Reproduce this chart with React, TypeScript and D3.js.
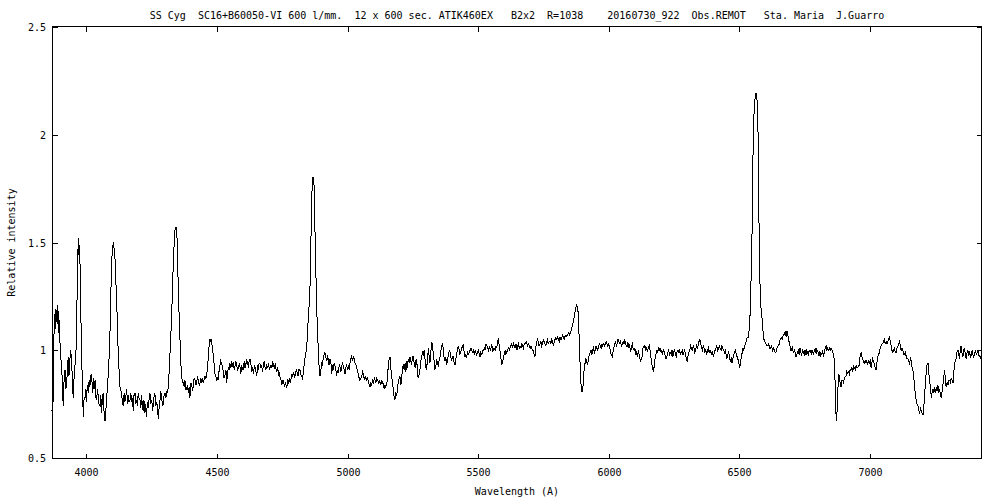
import React, { useEffect } from 'react';
import * as d3 from 'd3';

const title =
  'SS Cyg  SC16+B60050-VI 600 l/mm.  12 x 600 sec. ATIK460EX   B2x2  R=1038    20160730_922  Obs.REMOT   Sta. Maria  J.Guarro';
const xLabel = 'Wavelength (A)';
const yLabel = 'Relative intensity';

const xTicks = [4000, 4500, 5000, 5500, 6000, 6500, 7000];
const yTicks = [0.5, 1, 1.5, 2, 2.5];
const yTickLabels = ['0.5', '1', '1.5', '2', '2.5'];

// [wavelength (A), relative intensity]
const spectrum: [number, number][] = [
  [3868,0.72],[3870,0.80],[3872,0.76],[3875,1.05],[3877,1.12],[3879,1.17],[3881,1.10],[3883,1.19],[3885,1.13],[3888,1.21],
  [3890,1.12],[3892,1.18],[3894,1.08],[3896,1.14],[3899,1.02],[3902,0.96],[3905,0.92],[3908,0.84],[3911,0.74],[3914,0.85],
  [3918,0.91],[3921,0.82],[3924,0.85],[3927,0.90],[3930,0.97],[3933,0.88],[3936,0.95],[3940,1.00],[3943,0.93],[3946,0.88],
  [3949,0.78],[3952,0.86],[3956,0.93],[3960,1.00],[3963,1.18],[3965,1.31],[3967,1.45],[3969,1.52],[3971,1.44],[3973,1.49],
  [3975,1.42],[3978,1.19],[3982,0.96],[3985,0.80],[3988,0.69],[3991,0.78],[3994,0.77],[3997,0.82],[4000,0.76],[4003,0.84],
  [4007,0.80],[4010,0.86],[4013,0.83],[4016,0.88],[4020,0.89],[4023,0.80],[4026,0.87],[4029,0.82],[4033,0.86],[4036,0.78],
  [4039,0.77],[4042,0.82],[4045,0.79],[4048,0.75],[4052,0.74],[4055,0.79],[4058,0.71],[4061,0.78],[4064,0.80],[4067,0.72],
  [4071,0.67],[4074,0.72],[4077,0.77],[4080,0.83],[4083,0.88],[4086,0.95],[4090,1.08],[4093,1.25],[4096,1.39],[4099,1.47],
  [4103,1.50],[4106,1.47],[4109,1.43],[4112,1.33],[4116,1.23],[4119,1.05],[4122,1.00],[4125,0.90],[4128,0.83],[4131,0.82],
  [4135,0.79],[4138,0.76],[4141,0.74],[4144,0.80],[4147,0.76],[4150,0.78],[4154,0.82],[4157,0.75],[4160,0.79],[4163,0.76],
  [4167,0.77],[4170,0.80],[4173,0.76],[4176,0.78],[4179,0.72],[4182,0.79],[4186,0.80],[4189,0.75],[4192,0.77],[4195,0.74],
  [4198,0.80],[4201,0.78],[4205,0.77],[4208,0.73],[4211,0.79],[4214,0.74],[4217,0.72],[4220,0.77],[4224,0.71],[4227,0.75],
  [4230,0.69],[4233,0.76],[4237,0.73],[4240,0.78],[4243,0.80],[4246,0.75],[4250,0.77],[4253,0.72],[4256,0.75],[4259,0.79],
  [4262,0.80],[4265,0.74],[4269,0.76],[4272,0.73],[4275,0.68],[4278,0.73],[4281,0.76],[4284,0.81],[4288,0.78],[4291,0.74],
  [4294,0.75],[4297,0.79],[4301,0.80],[4304,0.78],[4307,0.81],[4310,0.80],[4313,0.83],[4316,0.89],[4320,0.99],[4323,1.07],
  [4326,1.16],[4329,1.27],[4332,1.39],[4336,1.50],[4339,1.56],[4341,1.57],[4343,1.57],[4346,1.53],[4348,1.50],[4351,1.31],
  [4355,1.15],[4358,1.05],[4361,0.95],[4364,0.88],[4368,0.85],[4371,0.85],[4374,0.83],[4377,0.86],[4380,0.82],[4383,0.82],
  [4387,0.84],[4390,0.80],[4393,0.83],[4396,0.78],[4400,0.85],[4403,0.84],[4406,0.81],[4409,0.83],[4412,0.87],[4416,0.86],
  [4419,0.84],[4422,0.85],[4425,0.88],[4428,0.86],[4432,0.84],[4435,0.85],[4438,0.87],[4441,0.85],[4444,0.87],[4447,0.85],
  [4450,0.86],[4454,0.88],[4457,0.87],[4460,0.88],[4463,0.92],[4466,0.96],[4470,1.03],[4473,1.05],[4476,1.04],[4479,1.05],
  [4482,1.00],[4486,0.98],[4489,0.93],[4492,0.89],[4495,0.88],[4499,0.86],[4502,0.87],[4505,0.86],[4508,0.91],[4511,0.93],
  [4514,0.95],[4518,0.94],[4521,0.92],[4524,0.90],[4527,0.87],[4530,0.88],[4534,0.91],[4537,0.85],[4540,0.89],[4543,0.92],
  [4546,0.91],[4549,0.94],[4553,0.92],[4556,0.95],[4559,0.93],[4562,0.94],[4566,0.91],[4569,0.93],[4572,0.95],[4575,0.93],
  [4579,0.91],[4582,0.92],[4585,0.94],[4588,0.92],[4591,0.89],[4594,0.93],[4598,0.91],[4600,0.91],[4604,0.95],[4607,0.92],
  [4610,0.93],[4613,0.96],[4617,0.94],[4620,0.92],[4623,0.95],[4626,0.96],[4630,0.93],[4633,0.90],[4636,0.92],[4639,0.89],
  [4643,0.93],[4646,0.92],[4649,0.90],[4652,0.88],[4655,0.93],[4658,0.91],[4661,0.94],[4664,0.94],[4668,0.92],[4671,0.93],
  [4674,0.90],[4677,0.93],[4681,0.95],[4684,0.92],[4687,0.91],[4690,0.93],[4694,0.92],[4697,0.94],[4700,0.91],[4703,0.92],
  [4707,0.93],[4710,0.92],[4713,0.95],[4716,0.93],[4720,0.92],[4723,0.94],[4726,0.91],[4729,0.90],[4732,0.92],[4736,0.88],
  [4739,0.89],[4742,0.87],[4745,0.86],[4748,0.84],[4751,0.86],[4754,0.86],[4758,0.83],[4761,0.85],[4764,0.84],[4767,0.83],
  [4771,0.86],[4774,0.85],[4777,0.87],[4780,0.85],[4784,0.87],[4787,0.89],[4790,0.88],[4793,0.90],[4797,0.87],[4800,0.89],
  [4803,0.91],[4806,0.90],[4810,0.88],[4813,0.91],[4817,0.91],[4820,0.89],[4824,0.88],[4827,0.87],[4830,0.89],[4833,0.93],
  [4836,0.96],[4840,0.99],[4843,1.00],[4846,1.08],[4849,1.14],[4852,1.20],[4856,1.30],[4858,1.42],[4860,1.55],[4862,1.68],
  [4865,1.79],[4867,1.80],[4869,1.80],[4871,1.78],[4873,1.66],[4875,1.55],[4878,1.38],[4881,1.22],[4884,1.10],[4886,1.05],
  [4889,0.96],[4892,0.90],[4894,0.88],[4897,0.90],[4900,0.94],[4904,0.93],[4907,0.97],[4910,0.98],[4913,0.99],[4916,0.97],
  [4920,0.95],[4923,0.97],[4926,0.96],[4929,0.93],[4932,0.96],[4936,0.94],[4939,0.89],[4942,0.93],[4945,0.91],[4948,0.94],
  [4951,0.93],[4955,0.91],[4958,0.88],[4961,0.91],[4964,0.90],[4968,0.93],[4971,0.92],[4974,0.90],[4977,0.92],[4980,0.94],
  [4983,0.93],[4987,0.91],[4990,0.89],[4993,0.92],[4996,0.93],[5000,0.91],[5003,0.93],[5006,0.91],[5009,0.94],[5012,0.96],
  [5015,0.97],[5019,0.95],[5022,0.97],[5025,0.96],[5028,0.94],[5032,0.93],[5035,0.92],[5038,0.90],[5041,0.89],[5044,0.87],
  [5047,0.86],[5051,0.87],[5054,0.88],[5057,0.90],[5060,0.89],[5064,0.86],[5067,0.88],[5070,0.87],[5073,0.86],[5076,0.87],
  [5080,0.85],[5083,0.84],[5086,0.83],[5089,0.85],[5092,0.84],[5096,0.86],[5099,0.85],[5102,0.87],[5105,0.86],[5108,0.85],
  [5111,0.87],[5115,0.86],[5118,0.85],[5121,0.86],[5124,0.85],[5127,0.84],[5131,0.86],[5134,0.85],[5137,0.84],[5140,0.82],
  [5143,0.84],[5146,0.83],[5150,0.84],[5153,0.89],[5156,0.93],[5159,0.96],[5162,0.97],[5165,0.92],[5169,0.88],[5172,0.84],
  [5175,0.82],[5178,0.78],[5181,0.77],[5184,0.80],[5188,0.79],[5191,0.83],[5194,0.85],[5197,0.87],[5200,0.88],[5204,0.84],
  [5207,0.87],[5210,0.92],[5213,0.93],[5216,0.91],[5220,0.94],[5223,0.90],[5226,0.95],[5229,0.92],[5232,0.96],[5236,0.94],
  [5239,0.97],[5242,0.95],[5245,0.93],[5248,0.97],[5251,0.97],[5255,0.94],[5258,0.92],[5261,0.95],[5264,0.96],[5267,0.91],
  [5270,0.87],[5274,0.89],[5277,0.91],[5280,0.95],[5283,0.97],[5287,0.99],[5290,0.98],[5293,1.00],[5296,0.96],[5299,0.92],
  [5302,0.91],[5306,0.96],[5309,1.01],[5312,0.97],[5315,0.94],[5319,1.00],[5322,1.04],[5325,1.02],[5328,0.98],[5331,0.95],
  [5334,0.91],[5338,0.93],[5341,0.96],[5344,0.94],[5347,0.93],[5350,0.95],[5354,0.97],[5357,1.00],[5360,1.02],[5364,1.03],
  [5367,0.99],[5370,0.96],[5373,0.95],[5376,0.97],[5379,0.93],[5382,0.95],[5386,0.98],[5389,1.00],[5392,0.99],[5395,0.97],
  [5398,0.95],[5401,0.97],[5404,0.97],[5408,0.94],[5411,0.93],[5414,0.96],[5417,0.98],[5420,1.00],[5424,1.02],[5427,1.00],
  [5430,0.98],[5433,0.99],[5437,1.01],[5440,1.02],[5443,1.03],[5446,0.99],[5449,0.97],[5453,0.98],[5456,0.97],[5459,0.99],
  [5462,0.98],[5465,0.99],[5469,1.00],[5472,1.01],[5475,1.00],[5478,0.99],[5482,1.00],[5485,0.98],[5488,1.00],[5491,0.99],
  [5494,0.98],[5498,0.99],[5501,1.00],[5504,0.98],[5507,0.97],[5510,0.99],[5514,0.98],[5517,1.00],[5520,1.00],[5523,1.01],
  [5526,1.00],[5530,1.03],[5533,1.02],[5536,1.01],[5539,1.00],[5543,1.02],[5546,1.00],[5549,1.01],[5552,1.03],[5555,0.99],
  [5559,1.01],[5562,1.01],[5565,1.00],[5568,1.02],[5571,1.01],[5574,1.04],[5577,1.05],[5581,1.02],[5584,0.99],[5587,0.96],
  [5590,0.93],[5593,0.95],[5597,0.96],[5600,0.99],[5603,1.00],[5606,0.98],[5609,0.99],[5612,1.00],[5616,1.01],[5619,1.00],
  [5622,1.01],[5625,1.02],[5628,1.03],[5632,1.01],[5635,1.03],[5638,1.02],[5641,1.01],[5645,1.03],[5648,1.00],[5651,1.02],
  [5654,1.03],[5657,1.01],[5660,1.02],[5664,1.01],[5667,1.03],[5670,1.02],[5673,1.01],[5676,1.03],[5680,1.03],[5683,1.04],
  [5686,1.03],[5689,1.02],[5692,1.03],[5696,1.02],[5699,1.01],[5702,1.02],[5705,1.01],[5708,1.00],[5711,1.00],[5714,0.98],
  [5717,0.97],[5720,1.01],[5724,1.04],[5727,1.05],[5730,1.04],[5733,1.02],[5737,1.03],[5740,1.04],[5743,1.02],[5746,1.03],
  [5749,1.05],[5752,1.04],[5756,1.03],[5759,1.02],[5762,1.04],[5765,1.05],[5768,1.03],[5772,1.04],[5775,1.04],[5778,1.03],
  [5781,1.05],[5784,1.04],[5788,1.02],[5791,1.04],[5794,1.05],[5797,1.06],[5801,1.05],[5804,1.06],[5807,1.05],[5810,1.04],
  [5813,1.06],[5817,1.05],[5820,1.06],[5823,1.07],[5826,1.06],[5829,1.05],[5833,1.07],[5836,1.06],[5839,1.07],[5842,1.07],
  [5845,1.08],[5849,1.07],[5852,1.08],[5855,1.09],[5858,1.10],[5861,1.12],[5864,1.13],[5868,1.16],[5871,1.18],[5874,1.20],
  [5877,1.21],[5880,1.20],[5883,1.17],[5885,1.10],[5887,1.04],[5889,0.97],[5891,0.90],[5893,0.85],[5895,0.82],[5897,0.81],
  [5899,0.81],[5901,0.83],[5903,0.87],[5906,0.92],[5909,0.94],[5912,0.96],[5915,0.95],[5918,0.93],[5922,0.96],[5925,0.98],
  [5929,0.99],[5932,1.00],[5935,0.98],[5938,1.00],[5941,1.01],[5945,0.99],[5948,1.00],[5951,1.02],[5954,1.01],[5958,1.00],
  [5961,1.02],[5964,1.03],[5967,1.02],[5971,1.01],[5974,1.03],[5977,1.02],[5980,1.03],[5984,1.02],[5987,1.03],[5990,1.04],
  [5993,1.03],[5996,1.02],[6000,1.03],[6003,1.01],[6006,1.00],[6009,0.98],[6013,0.97],[6016,0.99],[6019,1.01],[6022,1.03],
  [6026,1.04],[6029,1.02],[6032,1.03],[6035,1.05],[6039,1.04],[6042,1.03],[6045,1.04],[6048,1.02],[6052,1.03],[6055,1.04],
  [6058,1.03],[6061,1.05],[6064,1.03],[6068,1.02],[6071,1.03],[6074,1.01],[6077,1.03],[6080,1.02],[6084,0.99],[6087,1.02],
  [6090,1.03],[6093,1.01],[6097,1.00],[6100,1.01],[6103,0.98],[6106,0.99],[6110,0.97],[6113,1.00],[6116,0.98],[6119,0.96],
  [6122,0.95],[6126,0.96],[6129,0.99],[6132,1.02],[6135,1.01],[6138,1.02],[6142,1.00],[6145,1.01],[6148,1.00],[6151,1.01],
  [6155,1.02],[6158,1.00],[6161,0.97],[6164,0.94],[6167,0.92],[6171,0.90],[6174,0.93],[6177,0.96],[6180,0.98],[6184,1.00],
  [6187,0.99],[6190,1.01],[6193,1.00],[6196,1.01],[6200,0.99],[6203,1.00],[6206,0.98],[6209,1.00],[6213,0.99],[6216,0.97],
  [6219,0.96],[6222,0.97],[6226,0.99],[6229,1.00],[6232,0.98],[6235,0.99],[6239,0.98],[6242,1.00],[6245,0.97],[6248,0.99],
  [6252,1.00],[6255,0.98],[6258,0.97],[6261,0.99],[6265,1.00],[6268,0.99],[6271,1.00],[6274,0.98],[6278,0.99],[6281,1.00],
  [6284,0.98],[6287,0.99],[6290,1.00],[6294,0.98],[6297,0.96],[6300,0.95],[6303,0.97],[6306,0.99],[6310,1.00],[6313,1.02],
  [6316,1.01],[6319,1.00],[6323,1.02],[6326,1.01],[6329,0.99],[6332,1.00],[6336,1.02],[6339,1.01],[6342,1.02],[6345,1.04],
  [6349,1.05],[6352,1.03],[6355,1.01],[6358,1.00],[6362,1.02],[6365,1.01],[6368,0.99],[6371,1.00],[6375,0.98],[6378,1.00],
  [6381,1.01],[6384,0.99],[6388,1.00],[6391,0.99],[6394,0.98],[6397,0.99],[6400,0.97],[6404,0.99],[6407,1.00],[6410,1.01],
  [6413,1.02],[6417,1.00],[6420,1.01],[6423,1.02],[6426,1.01],[6430,1.00],[6433,1.02],[6436,1.01],[6439,1.00],[6443,0.99],
  [6446,1.00],[6449,0.98],[6452,0.96],[6456,0.98],[6459,0.99],[6462,0.97],[6465,0.95],[6469,0.96],[6472,0.94],[6475,0.96],
  [6478,0.98],[6481,0.99],[6485,1.00],[6488,0.98],[6491,0.97],[6494,0.96],[6498,0.94],[6501,0.92],[6504,0.94],[6507,0.97],
  [6511,0.99],[6514,1.01],[6517,1.00],[6520,1.02],[6524,1.03],[6527,1.05],[6530,1.06],[6534,1.06],[6538,1.10],[6541,1.17],
  [6544,1.30],[6548,1.51],[6551,1.85],[6556,2.10],[6560,2.17],[6563,2.19],[6566,2.19],[6568,2.15],[6570,2.11],[6572,1.95],
  [6575,1.59],[6579,1.30],[6583,1.19],[6588,1.13],[6591,1.08],[6594,1.05],[6598,1.04],[6602,1.03],[6605,1.02],[6609,1.02],
  [6612,1.03],[6616,1.01],[6620,1.01],[6623,1.02],[6627,1.00],[6630,1.01],[6634,1.00],[6637,0.99],[6640,0.99],[6644,1.01],
  [6648,1.02],[6653,1.03],[6656,1.05],[6660,1.06],[6664,1.05],[6668,1.07],[6672,1.08],[6675,1.07],[6678,1.09],[6681,1.07],
  [6684,1.08],[6687,1.06],[6690,1.04],[6694,1.02],[6697,1.00],[6700,1.00],[6703,1.02],[6706,0.99],[6710,1.00],[6713,0.99],
  [6716,0.97],[6719,0.97],[6722,0.99],[6726,1.00],[6729,0.98],[6732,1.01],[6735,0.99],[6738,0.98],[6742,1.00],[6745,0.99],
  [6748,0.98],[6751,1.00],[6755,0.98],[6758,1.00],[6761,0.99],[6764,0.98],[6767,1.00],[6771,0.99],[6774,1.00],[6777,0.98],
  [6780,1.00],[6783,0.98],[6787,1.00],[6790,0.99],[6793,1.01],[6796,0.99],[6800,1.00],[6803,0.98],[6806,0.99],[6809,0.97],
  [6812,0.99],[6816,0.98],[6819,1.00],[6822,0.97],[6825,0.99],[6829,1.01],[6832,1.02],[6835,1.00],[6838,1.01],[6842,1.00],
  [6845,1.01],[6848,1.00],[6851,1.01],[6855,1.00],[6858,0.99],[6861,0.98],[6864,0.94],[6866,0.86],[6868,0.76],[6870,0.70],
  [6872,0.67],[6874,0.72],[6876,0.77],[6878,0.85],[6881,0.89],[6884,0.86],[6887,0.84],[6889,0.83],[6892,0.86],[6896,0.86],
  [6899,0.85],[6902,0.87],[6905,0.88],[6908,0.88],[6911,0.90],[6915,0.89],[6918,0.90],[6921,0.89],[6924,0.91],[6928,0.91],
  [6931,0.92],[6934,0.90],[6937,0.93],[6940,0.92],[6944,0.91],[6947,0.93],[6950,0.92],[6953,0.92],[6956,0.93],[6959,0.93],
  [6962,0.97],[6966,0.99],[6969,0.97],[6972,0.96],[6975,0.95],[6978,0.94],[6982,0.95],[6985,0.94],[6988,0.95],[6991,0.93],
  [6994,0.95],[6997,0.94],[7001,0.95],[7004,0.92],[7007,0.94],[7010,0.96],[7014,0.95],[7017,0.93],[7020,0.92],[7023,0.91],
  [7026,0.94],[7030,0.97],[7033,0.98],[7036,0.99],[7039,1.01],[7042,1.02],[7046,1.03],[7049,1.03],[7052,1.04],[7055,1.05],
  [7058,1.03],[7062,1.04],[7065,1.03],[7068,1.04],[7071,1.05],[7074,1.06],[7078,1.04],[7081,1.02],[7084,1.00],[7087,0.99],
  [7090,1.00],[7094,1.01],[7097,0.99],[7100,0.99],[7103,1.01],[7107,1.02],[7110,1.03],[7113,1.04],[7116,1.02],[7119,1.00],
  [7122,1.01],[7126,1.00],[7129,0.98],[7132,0.98],[7135,0.99],[7139,0.97],[7142,0.96],[7145,0.96],[7148,0.95],[7151,0.94],
  [7155,0.96],[7158,0.95],[7161,0.92],[7164,0.91],[7167,0.88],[7171,0.83],[7174,0.79],[7177,0.77],[7180,0.75],[7184,0.74],
  [7187,0.72],[7190,0.71],[7193,0.73],[7196,0.72],[7199,0.71],[7203,0.70],[7206,0.74],[7209,0.78],[7212,0.85],[7216,0.91],
  [7219,0.94],[7222,0.94],[7225,0.90],[7228,0.86],[7231,0.83],[7234,0.79],[7236,0.78],[7239,0.82],[7241,0.82],[7244,0.80],
  [7248,0.83],[7251,0.80],[7254,0.83],[7257,0.81],[7260,0.84],[7263,0.80],[7266,0.82],[7270,0.79],[7273,0.78],[7276,0.81],
  [7280,0.85],[7283,0.88],[7286,0.91],[7289,0.85],[7292,0.83],[7295,0.85],[7299,0.84],[7302,0.86],[7305,0.86],[7308,0.85],
  [7311,0.87],[7315,0.86],[7318,0.85],[7321,0.90],[7324,0.94],[7327,0.95],[7330,0.96],[7333,0.99],[7337,1.00],[7340,0.98],
  [7343,0.96],[7346,1.01],[7349,1.02],[7352,0.99],[7356,0.97],[7359,1.00],[7362,1.01],[7365,0.98],[7368,0.96],[7372,0.99],
  [7375,1.00],[7378,0.98],[7381,0.99],[7385,0.97],[7388,0.98],[7391,1.00],[7394,0.98],[7397,0.97],[7400,0.98],[7404,1.00],
  [7407,0.98],[7410,0.99],[7413,1.00],[7416,0.98],[7419,0.97],[7422,0.97],[7425,0.96],
];

const W = 1000;
const H = 500;
const margin = { top: 27, right: 19, bottom: 42, left: 52 };
const FONT = '"DejaVu Sans Mono", "Liberation Mono", monospace';

const App: React.FC = () => {
  useEffect(() => {
    document.body.style.margin = '0';
  }, []);

  const x = d3.scaleLinear().domain([3868, 7425]).range([margin.left, W - margin.right]);
  const y = d3.scaleLinear().domain([0.5, 2.5]).range([H - margin.bottom, margin.top]);

  const line = d3.line<[number, number]>()
    .x(d => x(d[0]))
    .y(d => y(d[1]));

  const x0 = margin.left + 0.5;
  const x1 = W - margin.right + 0.5;
  const y0 = margin.top - 0.5;
  const y1 = H - margin.bottom + 0.5;
  const tick = 5;

  return (
    <svg width={W} height={H} style={{ position: 'absolute', left: 0, top: 0, background: '#fff' }}
      fontFamily={FONT} fontSize={10}>
      <rect x={0} y={0} width={W} height={H} fill="#fff" />
      <text x={(x0 + x1) / 2} y={19} textAnchor="middle" xmlSpace="preserve" style={{ whiteSpace: 'pre' }}>{title}</text>

      {/* spectrum, drawn aliased like the original bitmap plot */}
      <path d={line(spectrum) ?? ''} fill="none" stroke="#000" strokeWidth={1} shapeRendering="crispEdges" />

      {/* frame */}
      <rect x={x0} y={y0} width={x1 - x0} height={y1 - y0} fill="none" stroke="#000" strokeWidth={1} shapeRendering="crispEdges" />

      {xTicks.map(t => {
        const px = Math.round(x(t)) + 0.5;
        return (
          <g key={t}>
            <line x1={px} x2={px} y1={y1} y2={y1 - tick} stroke="#000" shapeRendering="crispEdges" />
            <line x1={px} x2={px} y1={y0} y2={y0 + tick} stroke="#000" shapeRendering="crispEdges" />
            <text x={px} y={476} textAnchor="middle">{t}</text>
          </g>
        );
      })}

      {yTicks.map((t, i) => {
        const py = Math.round(y(t)) + 0.5;
        return (
          <g key={t}>
            <line x1={x0} x2={x0 + tick} y1={py} y2={py} stroke="#000" shapeRendering="crispEdges" />
            <line x1={x1} x2={x1 - tick} y1={py} y2={py} stroke="#000" shapeRendering="crispEdges" />
            <text x={46} y={py + 3.5} textAnchor="end">{yTickLabels[i]}</text>
          </g>
        );
      })}

      <text x={(x0 + x1) / 2} y={495} textAnchor="middle">{xLabel}</text>
      <text transform={`translate(15,${(y0 + y1) / 2}) rotate(-90)`} textAnchor="middle">{yLabel}</text>
    </svg>
  );
};

export default App;
